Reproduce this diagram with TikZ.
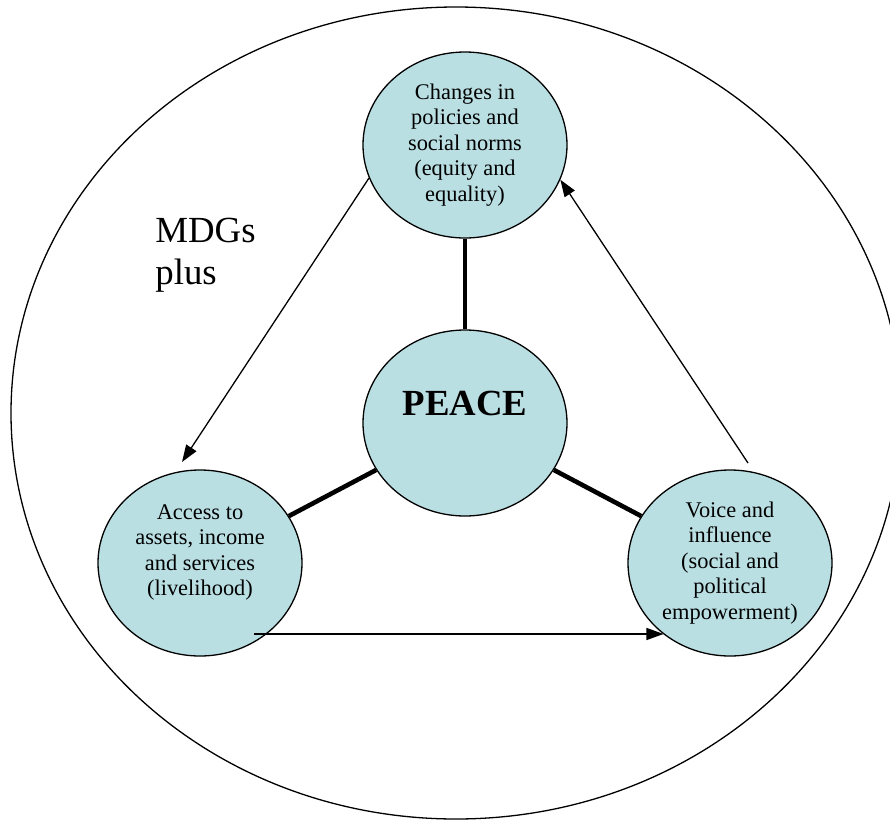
\documentclass[tikz,border=0pt]{standalone}
\usepackage{fontspec}
\setmainfont{Liberation Serif}
\usetikzlibrary{shapes.geometric}
\usetikzlibrary{arrows.meta}
\definecolor{bubblefill}{RGB}{186,223,227}

\begin{document}
\begin{tikzpicture}[x=0.5pt,y=-0.5pt,
    bubble/.style={draw, ellipse, fill=bubblefill, line width=0.65pt,
        minimum width=102pt, minimum height=93pt, inner sep=0pt, align=center,
        font=\fontsize{11.2}{12.75}\selectfont},
    link/.style={line width=2.3pt},
    flow/.style={line width=0.65pt, -{Triangle[length=8.5pt,width=6pt]}}]
    % 画布与外圈
    \clip (0,0) rectangle (890,820);
    \draw[line width=0.65pt] (456,413) ellipse [x radius=222.5pt, y radius=203pt];

    \node[anchor=west, align=left, inner sep=0pt, font=\fontsize{18.4}{21}\selectfont] (mdgs) at (155,255) {MDGs\\plus};

    % 四个圆
    \node[bubble] (policy) at (465,145) {Changes in\\policies and\\social norms\\(equity and\\equality)};
    \node[bubble, font=\bfseries\fontsize{18.4}{20}\selectfont] (peace) at (465,423) {PEACE\\~};
    \node[bubble] (access) at (200,563) {Access to\\assets, income\\and services\\(livelihood)\\~};
    \node[bubble] (voice) at (730,563) {Voice and\\influence\\(social and\\political\\empowerment)};

    % 粗线连接
    \draw[link] (peace) -- (policy);
    \draw[link] (peace) -- (access);
    \draw[link] (peace) -- (voice);

    % 箭头
    \coordinate (accesstip) at (182,462);
    \coordinate (voicefoot) at (748,463);
    \coordinate (accessfoot) at (254,634);
    \draw[flow] (policy.199) -- (accesstip);
    \draw[flow] (voicefoot) -- (policy.340);
    \draw[flow] (accessfoot) -- (accessfoot -| voice.227);

\end{tikzpicture}
\end{document}
